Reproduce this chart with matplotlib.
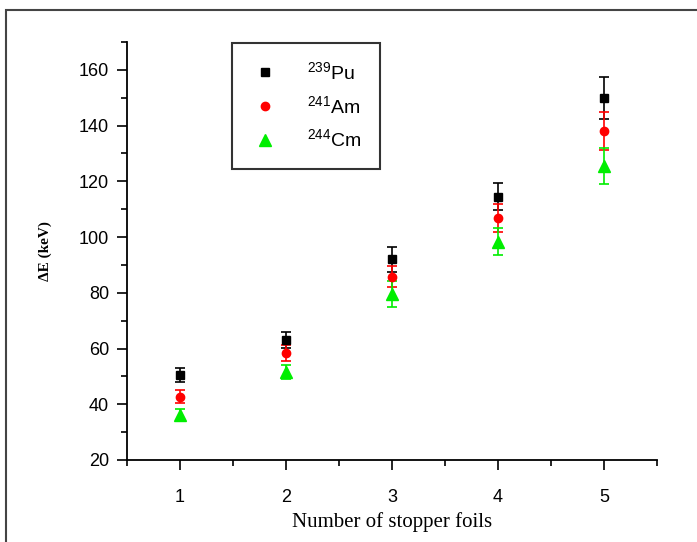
import matplotlib
matplotlib.use("Agg")
import matplotlib.pyplot as plt
from matplotlib.ticker import MultipleLocator
from matplotlib.patches import Rectangle

# energy loss vs number of stopper foils
foils = [1, 2, 3, 4, 5]

pu = [50.5, 63.0, 92.0, 114.5, 150.0]
pu_err = [2.5, 2.8, 4.4, 4.8, 7.5]

am = [42.7, 58.5, 85.8, 106.8, 138.0]
am_err = [2.4, 2.8, 3.8, 5.0, 6.8]

cm = [36.2, 51.5, 79.5, 98.4, 125.5]
cm_err = [2.2, 2.5, 4.6, 5.0, 6.6]

labels = ["$^{239}$Pu", "$^{241}$Am", "$^{244}$Cm"]

plt.rcParams["mathtext.fontset"] = "custom"
plt.rcParams["mathtext.rm"] = "Liberation Sans"
plt.rcParams["mathtext.default"] = "regular"

fig = plt.figure(figsize=(6.97, 5.42), dpi=100)
ax = fig.add_axes([0.1822, 0.1513, 0.7604, 0.7712])

# outer frame of the original picture
fig.patches.append(Rectangle((0.0086, -0.05), 1.1, 1.0315, transform=fig.transFigure,
                             fill=False, edgecolor="#444444", linewidth=1.5))

c1 = ax.errorbar(foils, pu, yerr=pu_err, fmt="s", color="black", ms=6,
                 capsize=3.5, elinewidth=1.2, capthick=1.2)
c2 = ax.errorbar(foils, am, yerr=am_err, fmt="o", color="#ff0000", ms=6,
                 capsize=3.5, elinewidth=1.2, capthick=1.2)
c3 = ax.errorbar(foils, cm, yerr=cm_err, fmt="^", color="#00ee00", ms=8,
                 capsize=3.5, elinewidth=1.2, capthick=1.2)

ax.set_xlim(0.5, 5.5)
ax.set_ylim(20, 170)
ax.xaxis.set_major_locator(MultipleLocator(1))
ax.xaxis.set_minor_locator(MultipleLocator(0.5))
ax.yaxis.set_major_locator(MultipleLocator(20))
ax.yaxis.set_minor_locator(MultipleLocator(10))

ax.spines["top"].set_visible(False)
ax.spines["right"].set_visible(False)
for s in ["left", "bottom"]:
    ax.spines[s].set_linewidth(1.3)

ax.tick_params(which="major", direction="out", length=7, width=1.2,
               labelsize=13, pad=6)
ax.tick_params(axis="x", which="major", pad=14)
ax.tick_params(which="minor", direction="out", length=4, width=1.2)
for lab in ax.get_xticklabels() + ax.get_yticklabels():
    lab.set_fontfamily("Liberation Sans")

ax.set_xlabel("Number of stopper foils", fontfamily="Liberation Serif",
              fontsize=15, labelpad=4)
ax.set_ylabel("\u0394E (keV)", fontfamily="Liberation Serif", fontsize=11,
              fontweight="bold", labelpad=19)

# legend shows markers only
handles = [c1[0], c2[0], c3[0]]
leg = ax.legend(handles, labels, loc="upper left", bbox_to_anchor=(0.333, 0.921),
                bbox_transform=fig.transFigure, borderaxespad=0,
                frameon=True, fancybox=False, edgecolor="black",
                prop={"family": "Liberation Sans", "size": 14},
                handletextpad=1.4, labelspacing=0.6, borderpad=0.95,
                handlelength=1.5)
leg.get_frame().set_linewidth(1.5)

fig.savefig("out.png", dpi=100)
